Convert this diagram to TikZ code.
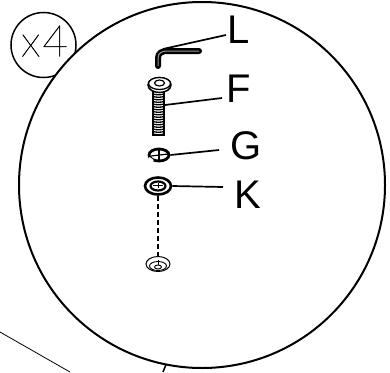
\documentclass[tikz,border=0pt]{standalone}
\usepackage{fontspec}
\setmainfont{Liberation Sans}
\newfontfamily\thinfont[RawFeature={embolden=0.8}]{Lato Hairline}
\usetikzlibrary{positioning, shapes.geometric}

\begin{document}
\begin{tikzpicture}[
    x=1pt, y=-1pt,
    partlabel/.style={font=\fontsize{40}{40}\selectfont, inner sep=0pt},
    leader/.style={draw, line width=1.7pt},
    ring/.style={draw, ellipse, inner sep=0pt, fill=white},
]
\useasboundingbox (0,0) rectangle (390,372);
\node[draw, circle, line width=1.5pt, minimum size=65pt, inner sep=0pt] (badge) at (43.5,45) {};
\node[font=\thinfont\fontsize{44}{44}\selectfont, inner sep=0pt] (count) at (44.5,41) {x\kern2pt 4};
\draw[line width=0.8pt] (0,332) -- (70,372);
\draw[line width=1.5pt] (167,362) -- (163,372);
\node[draw, circle, line width=2pt, minimum size=366pt, inner sep=0pt, fill=white] (detail) at (202,185) {};
% allen key
\draw[line width=6pt, line cap=round] (158,66) -- (158,58) .. controls (158,53) and (162,51) .. (167,51) -- (199,51);
\draw[line width=1pt, white!60!black] (158,66) -- (158,58) .. controls (158,53) and (162,51) .. (167,51) -- (199,51);
\node[partlabel] (L) at (239,30) {L};
\coordinate (keybend) at (163,49);
\draw[leader] (226,35) -- (keybend);
% bolt
\draw[line width=1.2pt, fill=white] (153,90) rectangle (164,135);
\foreach \y in {94,96.5,...,135} {
    \draw[line width=1.3pt] (153,\y) .. controls (156,\y+1) and (161,\y+1) .. (164,\y);
}
\node[ring, line width=1.5pt, minimum width=23pt, minimum height=15pt] (bolthead) at (159.5,85) {};
\node[ring, line width=1.3pt, minimum width=22pt, minimum height=12pt] (boltface) at (159.5,83.5) {};
\node[ring, line width=1.2pt, minimum width=10pt, minimum height=6pt] (socket) at (159.5,83) {};
\node[partlabel] (F) at (239,89) {F};
\coordinate (boltside) at (165,105);
\draw[leader] (222,98) -- (boltside);
% spring washer
\node[ring, line width=2.8pt, minimum width=20pt, minimum height=12pt] (spring) at (159,155) {};
\draw[line width=1.2pt] (159,150) -- (159,160);
\draw[line width=1.2pt] (151,156) -- (168,154);
\draw[white, line width=2.5pt] (149,158) -- (153,161);
\node[partlabel] (G) at (246.5,146) {G};
\draw[leader] (219,150) -- (spring.east);
% washer
\node[ring, line width=2.6pt, minimum width=26pt, minimum height=17pt] (washer) at (158,186) {};
\node[ring, line width=2.2pt, minimum width=15pt, minimum height=9pt] (washerin) at (158,186) {};
\draw[line width=1pt] (153,185.5) -- (163,185.5);
\draw[line width=1pt] (158,183) -- (158,188);
\node[partlabel] (K) at (248,195) {K};
\draw[leader] (223,187) -- (washer.east);
% hole
\node[ring, line width=1pt, minimum width=24pt, minimum height=15pt] (hole) at (158,264) {};
\node[ring, line width=0.9pt, minimum width=17pt, minimum height=9pt] (holein) at (158,266) {};
\draw[line width=0.9pt] (158,260) -- (158,266);
\node[ring, line width=0.9pt, minimum width=7pt, minimum height=4pt] (holetap) at (158,267) {};
\draw[line width=2pt, dash pattern=on 5pt off 3pt] (washer.south) -- (hole.north);
\end{tikzpicture}
\end{document}
